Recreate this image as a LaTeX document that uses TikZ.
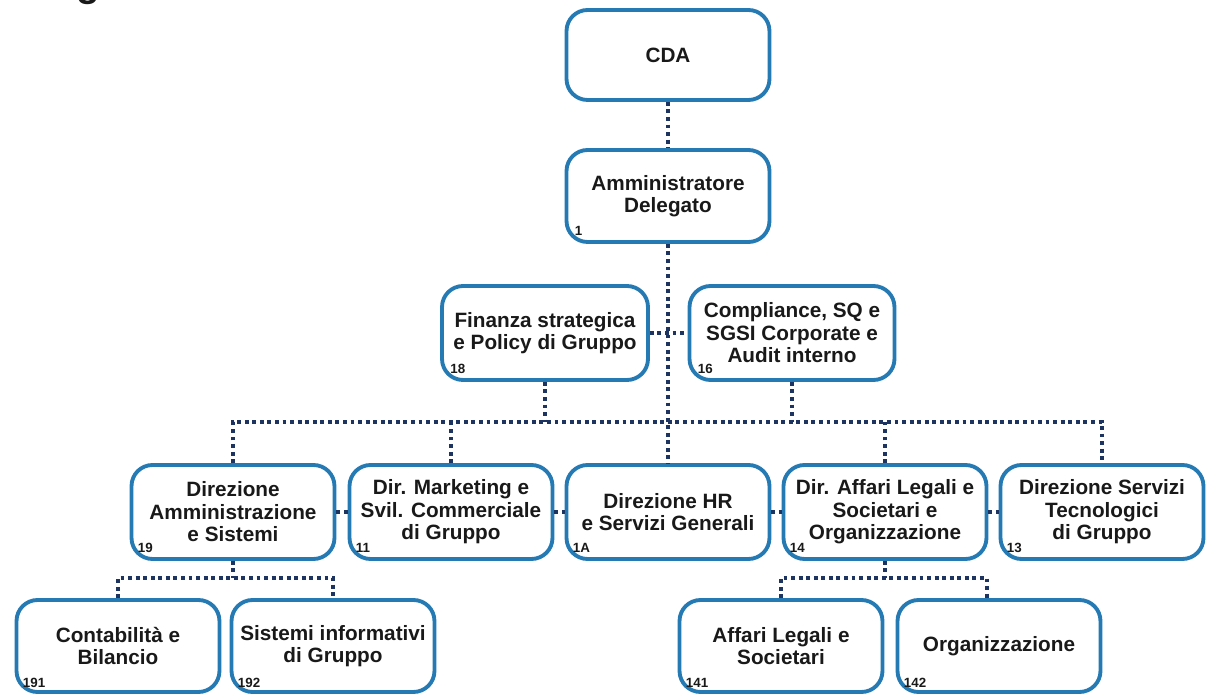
\documentclass[tikz,border=0pt]{standalone}
\usepackage{fontspec}
\setmainfont{Liberation Sans}
\usetikzlibrary{calc}
\definecolor{boxblue}{RGB}{38,122,180}
\definecolor{dotnavy}{RGB}{30,52,96}
\definecolor{txt}{RGB}{25,25,25}
\tikzset{
  orgbox/.style={draw=boxblue, line width=2.2pt, rounded corners=0.42cm, fill=white,
    minimum width=4.06cm, minimum height=1.88cm, align=center, inner sep=2pt,
    font=\bfseries\fontsize{11.8}{12.8}\selectfont, text=txt},
  conn/.style={draw=dotnavy, line width=2.2pt, dash pattern=on 2.2pt off 2.1pt},
  num/.style={anchor=south west, inner sep=0pt, font=\bfseries\fontsize{7.6}{8}\selectfont, text=txt}
}
\begin{document}
\begin{tikzpicture}[x=0.02cm,y=-0.02cm]
\useasboundingbox (0,0) rectangle (1211,695);
\begin{scope}
\clip (0,0) rectangle (1211,695);
\node[anchor=base, inner sep=0pt, font=\bfseries\fontsize{22}{22}\selectfont, text=txt] (title) at (88,-3) {g};
\end{scope}
\coordinate (bus) at (668,422);
% nodes
\node[orgbox, minimum height=1.80cm] (cda) at (668,55) {CDA};
\node[orgbox, minimum height=1.84cm] (ad) at (668,196) {Amministratore\\Delegato};
\node[orgbox, minimum width=4.12cm] (fin) at (545,333) {Finanza strategica\\e Policy di Gruppo};
\node[orgbox, minimum width=4.1cm] (comp) at (792,333) {Compliance, SQ e\\SGSI Corporate e\\Audit interno};
\node[orgbox] (dam) at (233,512) {Direzione\\Amministrazione\\e Sistemi};
\node[orgbox] (mkt) at (451,512) {Dir. Marketing e\\Svil. Commerciale\\di Gruppo};
\node[orgbox] (hr) at (668,512) {Direzione HR\\e Servizi Generali};
\node[orgbox] (aff) at (885,512) {Dir. Affari Legali e\\Societari e\\Organizzazione};
\node[orgbox] (dst) at (1102,512) {Direzione Servizi\\Tecnologici\\di Gruppo};
\node[orgbox, minimum height=1.84cm] (cont) at (118,646) {Contabilità e\\Bilancio};
\node[orgbox, minimum height=1.84cm] (sist) at (333,646) {Sistemi informativi\\di Gruppo};
\node[orgbox, minimum height=1.84cm] (alg) at (781,646) {Affari Legali e\\Societari};
\node[orgbox, minimum height=1.84cm] (org) at (999,646) {Organizzazione};
% numbers
\node[num] (n1) at ($(ad.south west)+(10,-8)$) {1};
\node[num] (n18) at ($(fin.south west)+(10,-8)$) {18};
\node[num] (n16) at ($(comp.south west)+(10,-8)$) {16};
\node[num] (n19) at ($(dam.south west)+(8,-8)$) {19};
\node[num] (n11) at ($(mkt.south west)+(8,-8)$) {11};
\node[num] (n1A) at ($(hr.south west)+(8,-8)$) {1A};
\node[num] (n14) at ($(aff.south west)+(8,-8)$) {14};
\node[num] (n13) at ($(dst.south west)+(8,-8)$) {13};
\node[num] (n191) at ($(cont.south west)+(8,-6)$) {191};
\node[num] (n192) at ($(sist.south west)+(8,-6)$) {192};
\node[num] (n141) at ($(alg.south west)+(8,-6)$) {141};
\node[num] (n142) at ($(org.south west)+(8,-6)$) {142};
% connectors
\draw[conn] (cda.south) -- (ad.north);
\draw[conn] (ad.south) -- (hr.north);
\draw[conn] (fin.east) -- (comp.west);
\draw[conn] (fin.south) -- (fin.south |- bus);
\draw[conn] (comp.south) -- (comp.south |- bus);
\draw[conn] (dam.north) -- (dam.north |- bus) -- (dst.north |- bus) -- (dst.north);
\draw[conn] (mkt.north) -- (mkt.north |- bus);
\draw[conn] (aff.north) -- (aff.north |- bus);
\draw[conn] (dam.east) -- (mkt.west);
\draw[conn] (mkt.east) -- (hr.west);
\draw[conn] (hr.east) -- (aff.west);
\draw[conn] (aff.east) -- (dst.west);
\coordinate (b4l) at (233,578);
\coordinate (b4r) at (885,578);
\coordinate (dorg) at (987,600);
\draw[conn] (dam.south) -- (b4l);
\draw[conn] (cont.north) -- (cont.north |- b4l) -- (sist.north |- b4l) -- (sist.north);
\draw[conn] (aff.south) -- (b4r);
\draw[conn] (alg.north) -- (alg.north |- b4r) -- (dorg |- b4r) -- (dorg);
\end{tikzpicture}
\end{document}
